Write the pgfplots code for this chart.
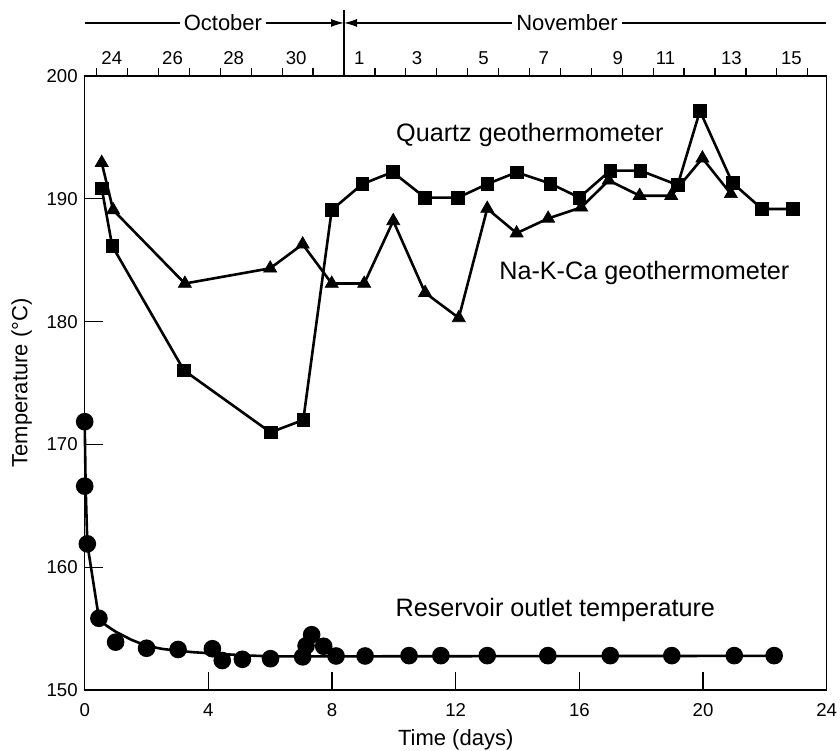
\documentclass[border=0pt]{standalone}
\usepackage{fontspec}
\setmainfont{Liberation Sans}
\usepackage{pgfplots}
\pgfplotsset{compat=1.18}
\usetikzlibrary{arrows.meta,calc}

\begin{document}
\begin{tikzpicture}
% top date axis
\begin{axis}[
  scale only axis, width=371pt, height=307pt,
  xmin=0, xmax=24, ymin=150, ymax=200,
  axis x line*=top, hide y axis,
  xtick={0.387,1.387,2.387,3.387,4.387,5.387,6.387,7.387,8.387,9.387,10.387,11.387,12.387,13.387,14.387,15.387,16.387,17.387,18.387,19.387,20.387,21.387,22.387,23.387},
  xticklabels={},
  tick align=outside, major tick length=4pt,
  tick style={line width=0.6pt, black},
  axis line style={line width=0.6pt},
  extra x ticks={0.876,2.84,4.82,6.84,8.88,10.75,12.9,14.85,17.24,18.79,20.92,22.86},
  extra x tick labels={24,26,28,30,1,3,5,7,9,11,13,15},
  extra x tick style={major tick length=0pt, xticklabel style={anchor=center, yshift=9pt}},
  ticklabel style={font=\fontsize{9.3}{11}\selectfont},
  /pgf/number format/assume math mode=true,
]
\end{axis}
% main axis
\begin{axis}[
  name=main,
  scale only axis, width=371pt, height=307pt,
  xmin=0, xmax=24, ymin=150, ymax=200,
  xtick={0,4,...,24}, ytick={150,160,...,200},
  xtick pos=bottom, ytick pos=left,
  tick align=inside, major tick length=9pt,
  axis line style={line width=0.6pt},
  tick style={line width=0.6pt, black},
  ticklabel style={font=\fontsize{9.3}{11}\selectfont},
  xticklabel style={anchor=center, yshift=-10pt},
  /pgf/number format/assume math mode=true,
  clip=false,
  every axis plot/.append style={line width=1.3pt, black},
]
% Na-K-Ca geothermometer
\addplot[mark=triangle*, mark size=3.8pt, mark options={solid, line width=0.3pt}] coordinates {
(0.55,192.94) (0.92,189.09) (3.24,183.1) (6.0,184.34) (7.05,186.3) (7.99,183.1)
(9.04,183.1) (9.98,188.2) (11.01,182.35) (12.1,180.3) (13.02,189.2) (13.97,187.2)
(14.99,188.4) (16.06,189.3) (16.95,191.5) (17.95,190.25) (18.97,190.25) (19.98,193.3)
(20.9,190.4)};
% Quartz geothermometer
\addplot[mark=square*, mark size=3.2pt, mark options={solid, line width=0.3pt}] coordinates {
(0.55,190.86) (0.89,186.16) (3.21,176.03) (6.01,170.98) (7.07,171.99) (7.99,189.09)
(8.98,191.2) (9.96,192.18) (11.01,190.09) (12.07,190.09) (13.02,191.2) (13.97,192.16)
(15.06,191.24) (16.0,190.1) (17.0,192.3) (17.97,192.3) (19.18,191.12) (19.9,197.15)
(20.95,191.3) (21.91,189.17) (22.91,189.17)};
% Reservoir outlet temperature: fitted curve
\addplot[no marks] coordinates {
(0,171.85) (0.03,166.6) (0.085,161.9) (0.46,155.84) (0.7,155.25) (1,154.75)
(1.5,154.1) (2,153.6) (2.5,153.35) (3,153.2) (3.5,153.08) (4.1,152.98)
(5.1,152.83) (6,152.74) (8,152.74) (22.3,152.78)};
% Reservoir outlet temperature: measurements
\addplot[only marks, mark=*, mark size=3.75pt] coordinates {
(0,171.85) (0,166.6) (0.085,161.9) (0.46,155.84) (1.0,153.9) (2.0,153.4)
(3.02,153.3) (4.13,153.36) (4.45,152.4) (5.1,152.5) (6.01,152.55) (7.05,152.7)
(7.16,153.6) (7.34,154.5) (7.73,153.56) (8.13,152.77) (9.07,152.77) (10.49,152.8)
(11.52,152.8) (13.02,152.8) (14.98,152.8) (17.0,152.8) (18.99,152.8) (21.01,152.8)
(22.3,152.8)};
% annotations
\node[font=\fontsize{12.6}{15}\selectfont] at (axis cs:14.4,195.2) {Quartz geothermometer};
\node[font=\fontsize{12.6}{15}\selectfont] at (axis cs:18.1,183.93) {Na-K-Ca geothermometer};
\node[font=\fontsize{12.6}{15}\selectfont, anchor=east, inner sep=0pt] at (axis cs:20.4,156.5) {Reservoir outlet temperature};
% month markers
\draw[line width=0.6pt] (axis cs:8.387,200) -- (axis cs:8.387,205.4);
\draw[line width=0.6pt, -{Latex[length=6.5pt,width=4pt]}] (axis cs:0,204.32) -- (axis cs:8.387,204.32);
\draw[line width=0.6pt, {Latex[length=6.5pt,width=4pt]}-] (axis cs:8.387,204.32) -- (axis cs:23.98,204.32);
\node[fill=white, inner sep=2pt, font=\fontsize{11}{13}\selectfont] at (axis cs:4.47,204.32) {October};
\node[fill=white, inner sep=2pt, font=\fontsize{11}{13}\selectfont] at (axis cs:15.6,204.32) {November};
\end{axis}
\node[font=\fontsize{11}{13}\selectfont] at (185.5pt,-25pt) {Time (days)};
\node[rotate=90, font=\fontsize{11}{13}\selectfont] at (-31.5pt,153.5pt) {Temperature (°C)};
\pgfresetboundingbox
\path[use as bounding box] (-42.35pt,-30pt) rectangle (377.65pt,345pt);
\end{tikzpicture}
\end{document}
